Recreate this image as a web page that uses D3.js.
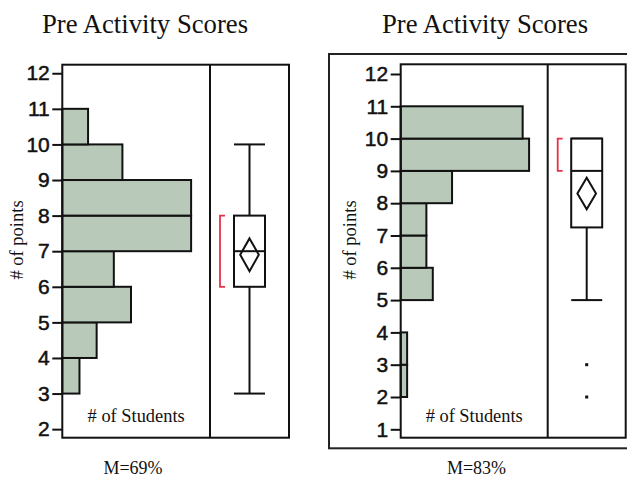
<!DOCTYPE html>
<html>
<head>
<meta charset="utf-8">
<script src="https://cdn.jsdelivr.net/npm/d3@7"></script>
<style>
  html, body { margin: 0; padding: 0; background: #fff; }
  svg { display: block; }
</style>
</head>
<body>
<svg id="chart" width="627" height="477"></svg>
<script>
// Score bins (lower edge of each one-point bin) and student counts per bin
const preBinsA = [3, 4, 5, 6, 7, 8, 9, 10];
const preCountsA = [2, 4, 8, 6, 15, 15, 7, 3];
const preBinsB = [2, 3, 5, 6, 7, 8, 9, 10];
const preCountsB = [1, 1, 5, 4, 4, 8, 20, 19];

// Box plot summaries: [min whisker, Q1, median, Q3, max whisker]
const boxA = [3, 6, 7, 8, 10];
const boxB = [5, 7.25, 9, 10, 10];
// Mean and half-width of its confidence diamond
const meanA = [6.9, 0.46];
const meanB = [8.3, 0.49];
// Shortest half bracket
const shortA = [6, 8];
const shortB = [9, 10];
// Outlying scores
const outliersA = [];
const outliersB = [2, 3];

const ticksA = [2, 3, 4, 5, 6, 7, 8, 9, 10, 11, 12];
const ticksB = [1, 2, 3, 4, 5, 6, 7, 8, 9, 10, 11, 12];
const titles = ["Pre Activity Scores", "Pre Activity Scores"];
const meanLabels = ["M=69%", "M=83%"];

const svg = d3.select("#chart");
const serif = "'Liberation Serif', 'Times New Roman', serif";
const sans = "'Liberation Sans', Arial, sans-serif";
const ink = "#111";

const panels = [
  {
    bins: preBinsA, counts: preCountsA, box: boxA, mean: meanA, short: shortA,
    outliers: outliersA, ticks: ticksA, title: titles[0], m: meanLabels[0],
    left: 62.3, divider: 210, right: 289, top: 64.7, bottom: 437.7,
    yDomain: [1.76, 12.24], xMax: 17.2,
    titleX: 145, mX: 133, mY: 473.5, labelX: 22.5, outer: null
  },
  {
    bins: preBinsB, counts: preCountsB, box: boxB, mean: meanB, short: shortB,
    outliers: outliersB, ticks: ticksB, title: titles[1], m: meanLabels[1],
    left: 400.7, divider: 547.7, right: 625.7, top: 64.3, bottom: 437.7,
    yDomain: [0.74, 12.3], xMax: 22.9,
    titleX: 485, mX: 476.5, mY: 473.5, labelX: 356,
    outer: { x: 329, y: 54, w: 320, h: 394.3 }
  }
];

panels.forEach(p => {
  const g = svg.append("g");

  if (p.outer) {
    g.append("rect")
      .attr("x", p.outer.x).attr("y", p.outer.y)
      .attr("width", p.outer.w).attr("height", p.outer.h)
      .attr("fill", "none").attr("stroke", "#222").attr("stroke-width", 2);
  }

  const y = d3.scaleLinear().domain(p.yDomain).range([p.bottom, p.top]);
  const x = d3.scaleLinear().domain([0, p.xMax]).range([p.left, p.divider]);

  // Histogram bars
  g.selectAll("rect.bar")
    .data(p.bins.map((b, i) => ({ b, c: p.counts[i] })))
    .join("rect")
    .attr("class", "bar")
    .attr("x", p.left)
    .attr("y", d => y(d.b + 1))
    .attr("width", d => x(d.c) - p.left)
    .attr("height", d => y(d.b) - y(d.b + 1))
    .attr("fill", "#b9c9b9")
    .attr("stroke", ink)
    .attr("stroke-width", 2);

  // Plot frame and divider
  g.append("rect")
    .attr("x", p.left).attr("y", p.top)
    .attr("width", p.right - p.left).attr("height", p.bottom - p.top)
    .attr("fill", "none").attr("stroke", ink).attr("stroke-width", 2);
  g.append("line")
    .attr("x1", p.divider).attr("x2", p.divider)
    .attr("y1", p.top).attr("y2", p.bottom)
    .attr("stroke", ink).attr("stroke-width", 2);

  // Y axis
  const axis = g.append("g")
    .attr("transform", `translate(${p.left},0)`)
    .call(d3.axisLeft(y).tickValues(p.ticks).tickSize(10).tickPadding(2.5).tickFormat(d3.format("d")));
  axis.select(".domain").remove();
  axis.selectAll(".tick line").attr("stroke", ink).attr("stroke-width", 2);
  axis.selectAll(".tick text")
    .attr("fill", ink)
    .attr("stroke", ink)
    .attr("stroke-width", 0.5)
    .style("font-family", sans)
    .style("font-size", "21px");

  // Box plot
  const cx = (p.divider + p.right) / 2;
  const bw = 31;
  const [mn, q1, med, q3, mx] = p.box;
  g.append("line")
    .attr("x1", cx).attr("x2", cx).attr("y1", y(mx)).attr("y2", y(q3))
    .attr("stroke", ink).attr("stroke-width", 2);
  g.append("line")
    .attr("x1", cx).attr("x2", cx).attr("y1", y(q1)).attr("y2", y(mn))
    .attr("stroke", ink).attr("stroke-width", 2);
  [mn, mx].forEach(v => {
    g.append("line")
      .attr("x1", cx - bw / 2).attr("x2", cx + bw / 2)
      .attr("y1", y(v)).attr("y2", y(v))
      .attr("stroke", ink).attr("stroke-width", 2);
  });
  g.append("rect")
    .attr("x", cx - bw / 2).attr("y", y(q3))
    .attr("width", bw).attr("height", y(q1) - y(q3))
    .attr("fill", "#fff").attr("stroke", ink).attr("stroke-width", 2);
  g.append("line")
    .attr("x1", cx - bw / 2).attr("x2", cx + bw / 2)
    .attr("y1", y(med)).attr("y2", y(med))
    .attr("stroke", ink).attr("stroke-width", 2);

  // Mean confidence diamond
  const [m, h] = p.mean;
  const dw = 9.3;
  g.append("path")
    .attr("d", `M${cx},${y(m + h)} L${cx + dw},${y(m)} L${cx},${y(m - h)} L${cx - dw},${y(m)} Z`)
    .attr("fill", "none").attr("stroke", ink).attr("stroke-width", 2);

  // Shortest half bracket
  const bx = p.divider + 10;
  g.append("path")
    .attr("d", `M${bx + 5},${y(p.short[1])} H${bx} V${y(p.short[0])} H${bx + 5}`)
    .attr("fill", "none").attr("stroke", "#e8304a").attr("stroke-width", 1.8);

  // Outliers
  g.selectAll("rect.out")
    .data(p.outliers)
    .join("rect")
    .attr("class", "out")
    .attr("x", cx - 1.5).attr("y", d => y(d) - 1.5)
    .attr("width", 3).attr("height", 3)
    .attr("fill", ink);

  // Texts
  g.append("text")
    .attr("x", p.titleX).attr("y", 33)
    .attr("text-anchor", "middle")
    .style("font-family", serif).style("font-size", "26.7px")
    .attr("fill", ink)
    .text(p.title);

  g.append("text")
    .attr("transform", `translate(${p.labelX},240) rotate(-90)`)
    .attr("text-anchor", "middle")
    .style("font-family", serif).style("font-size", "18.5px")
    .attr("fill", ink)
    .text("# of points");

  g.append("text")
    .attr("x", (p.left + p.divider) / 2).attr("y", 421.7)
    .attr("text-anchor", "middle")
    .style("font-family", serif).style("font-size", "18.4px")
    .attr("fill", ink)
    .text("# of Students");

  g.append("text")
    .attr("x", p.mX).attr("y", p.mY)
    .attr("text-anchor", "middle")
    .style("font-family", serif).style("font-size", "18px")
    .attr("fill", ink)
    .text(p.m);
});
</script>
</body>
</html>
